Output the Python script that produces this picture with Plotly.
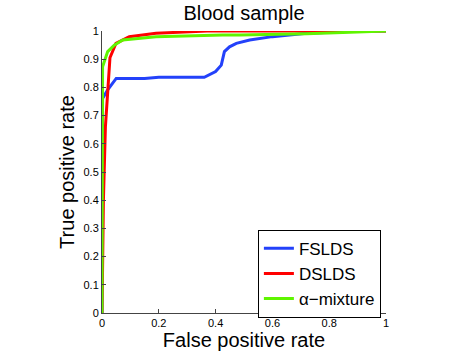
import plotly.graph_objects as go

# ROC points
fslds_fpr = [0, 0, 0.002, 0.02, 0.05, 0.15, 0.2, 0.36, 0.40, 0.42, 0.431, 0.449, 0.473, 0.52, 0.60, 0.72, 0.91, 1.0]
fslds_tpr = [0, 0.75, 0.761, 0.791, 0.832, 0.832, 0.836, 0.836, 0.856, 0.879, 0.927, 0.944, 0.956, 0.968, 0.98, 0.992, 1.0, 1.0]

dslds_fpr = [0, 0.005, 0.012, 0.014, 0.02, 0.028, 0.049, 0.096, 0.19, 0.31, 0.37, 1.0]
dslds_tpr = [0, 0.40, 0.66, 0.696, 0.80, 0.905, 0.956, 0.98, 0.992, 0.998, 1.0, 1.0]

mix_fpr = [0, 0, 0.002, 0.02, 0.043, 0.073, 0.19, 0.425, 0.484, 0.72, 0.9, 1.0]
mix_tpr = [0, 0.87, 0.873, 0.927, 0.95, 0.968, 0.98, 0.986, 0.986, 0.99, 0.995, 1.0]

series = [
    ("FSLDS", fslds_fpr, fslds_tpr, "rgb(35,65,250)"),
    ("DSLDS", dslds_fpr, dslds_tpr, "rgb(255,0,0)"),
    ("α\u2212mixture", mix_fpr, mix_tpr, "rgb(95,245,0)"),
]

fig = go.Figure()
for name, x, y, c in series:
    fig.add_trace(go.Scatter(x=x, y=y, mode="lines", name=name,
                             line=dict(color=c, width=3)))

axis_common = dict(showgrid=False, zeroline=False, showline=True, linecolor="#444",
                   linewidth=1, ticks="inside", ticklen=4, tickcolor="#444",
                   tickfont=dict(size=11, color="black"), mirror=False, automargin=False)

fig.update_layout(
    width=472, height=354,
    margin=dict(l=102, r=86, t=31, b=41),
    paper_bgcolor="white", plot_bgcolor="white",
    font=dict(family="Liberation Sans, Arial, sans-serif", color="black"),
    title=dict(text="Blood sample", x=0.517, xanchor="center", y=0.963, yanchor="middle",
               font=dict(size=20, color="black"), automargin=False),
    xaxis=dict(range=[0, 1], dtick=0.2, title=dict(text="False positive rate", font=dict(size=20), standoff=2),
               **axis_common),
    yaxis=dict(range=[0, 1], dtick=0.1, title=dict(text="True positive rate", font=dict(size=20), standoff=3),
               **axis_common),
    legend=dict(x=0.982, y=-0.017, xanchor="right", yanchor="bottom",
                bgcolor="white", bordercolor="black", borderwidth=1,
                font=dict(size=17, color="black"), tracegroupgap=0),
    showlegend=True,
)

# drop the page's default body margin so the figure sits at the window corner
fig.write_html("out.html", config={"displayModeBar": False},
               post_script="document.body.style.margin='0';")
